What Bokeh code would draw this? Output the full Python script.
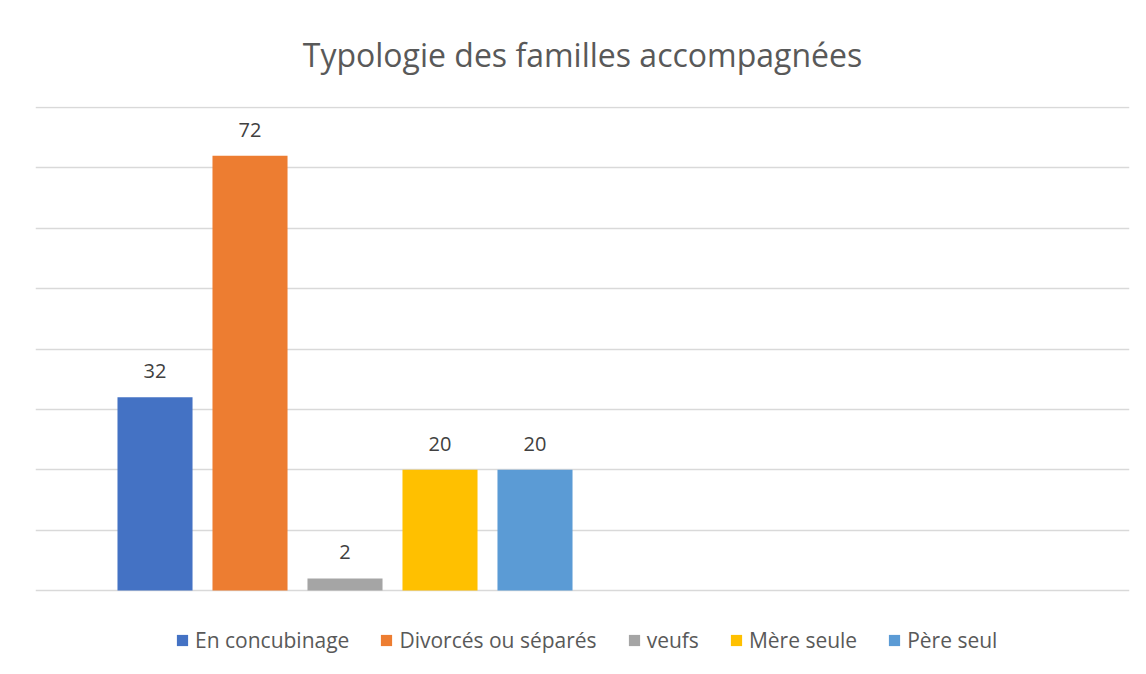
from bokeh.plotting import figure
from bokeh.models import ColumnDataSource, FixedTicker, Range1d
from bokeh.core.properties import value
from bokeh.embed import file_html
from bokeh.resources import INLINE

categories = ["En concubinage", "Divorcés ou séparés", "veufs", "Mère seule", "Père seul"]
values = [32, 72, 2, 20, 20]
colors = ["#4472C4", "#ED7D31", "#A5A5A5", "#FFC000", "#5B9BD5"]
y_ticks = [0, 10, 20, 30, 40, 50, 60, 70, 80]

FONT = "Open Sans"

src = ColumnDataSource(dict(
    x=list(range(len(categories))),
    v=values,
    cat=categories,
    color=colors,
    lbl=[str(v) for v in values],
))

p = figure(
    width=1146, height=674,
    output_backend="svg", toolbar_location=None,
    x_range=Range1d(-1.258, 10.258), y_range=Range1d(-13.913, 80.166),
    min_border_left=35, min_border_right=17, min_border_top=106, min_border_bottom=0,
    title="Typologie des familles accompagnées",
)

p.title.align = "center"
p.title.text_font = FONT
p.title.text_font_style = "normal"
p.title.text_font_size = "32px"
p.title.text_color = "#595959"
p.title.standoff = 61

p.outline_line_color = None
p.xaxis.visible = False
p.yaxis.visible = False
p.xgrid.visible = False
p.ygrid.ticker = FixedTicker(ticks=y_ticks)
p.ygrid.grid_line_color = "#d9d9d9"
p.ygrid.grid_line_width = 1.3

p.vbar(x="x", top="v", width=0.79, bottom=0, fill_color="color", line_color=None,
       legend_field="cat", source=src)

p.text(x="x", y="v", text="lbl", source=src, text_align="center", text_baseline="middle",
       y_offset=-26, text_font=value(FONT), text_font_size="20px", text_color="#404040")

lg = p.legend[0]
lg.orientation = "horizontal"
lg.location = (140, 20)
lg.glyph_width = 14
lg.glyph_height = 14
lg.label_standoff = 6
lg.spacing = 30
lg.padding = 0
lg.margin = 0
lg.border_line_color = None
lg.background_fill_alpha = 0
lg.label_text_font = FONT
lg.label_text_font_size = "21px"
lg.label_text_color = "#595959"
lg.label_height = 22

open("out.html", "w").write(file_html(p, INLINE))
